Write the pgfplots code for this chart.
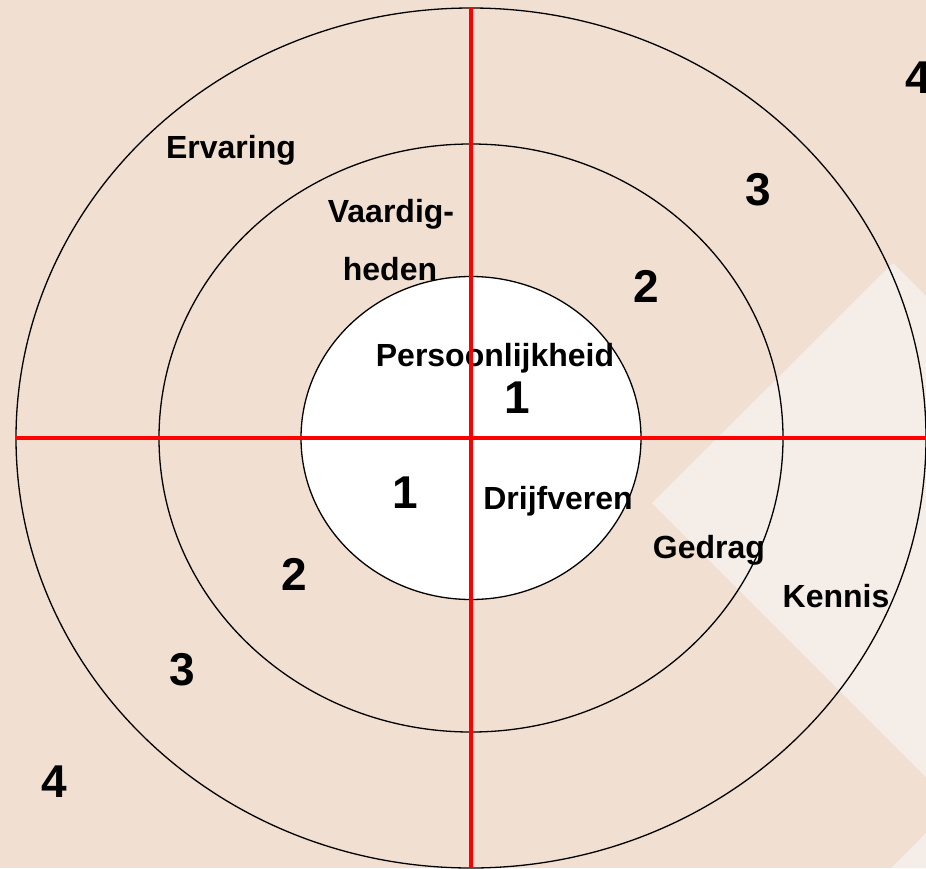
\documentclass[border=0pt]{standalone}
\usepackage{pgfplots}
\pgfplotsset{compat=1.18}
\usepackage{fontspec}
\setmainfont{Liberation Sans}
\definecolor{bg}{RGB}{241,223,209}
\definecolor{lt}{RGB}{245,237,231}
\begin{document}
\begin{tikzpicture}
\begin{axis}[scale only axis, width=463pt, height=434pt,
  xmin=0, xmax=926, ymin=0, ymax=868, y dir=reverse,
  axis lines=none, clip=true,
  axis background/.style={fill=bg}]
% light decorative shapes
\addplot[fill=lt, draw=none] coordinates {(652,503) (893,263) (960,330) (960,811)} -- cycle;
\addplot[fill=lt, draw=none] coordinates {(891,868) (926,833) (926,868)} -- cycle;
% rings
\draw[black, line width=0.65pt] (axis cs:471,438) ellipse [x radius=227.5pt, y radius=215pt];
\draw[black, line width=0.65pt] (axis cs:471,438) ellipse [x radius=156pt, y radius=147pt];
\draw[black, fill=white, line width=0.65pt] (axis cs:471,438) ellipse [x radius=85pt, y radius=80.75pt];
% labels
\tikzset{lab/.style={font=\bfseries\fontsize{16}{18}\selectfont, anchor=base, inner sep=0pt},
         num/.style={font=\bfseries\fontsize{23}{26}\selectfont, anchor=base, inner sep=0pt}}
\node[lab] at (axis cs:231,158) {Ervaring};
\node[lab] at (axis cs:391,222) {Vaardig-};
\node[lab] at (axis cs:390,280) {heden};
\node[lab] at (axis cs:495,366) {Persoonlijkheid};
\node[lab] at (axis cs:558,509) {Drijfveren};
\node[lab] at (axis cs:709,558) {Gedrag};
\node[lab] at (axis cs:836,607) {Kennis};
\node[num] at (axis cs:517,413) {1};
\node[num] at (axis cs:405,508) {1};
\node[num] at (axis cs:646,302) {2};
\node[num] at (axis cs:758,205) {3};
\node[num, anchor=base west] at (axis cs:905,93) {4};
\node[num] at (axis cs:294,590) {2};
\node[num] at (axis cs:182,685) {3};
\node[num] at (axis cs:54,797) {4};
% red axes
\addplot[red, line width=1.75pt, mark=none] coordinates {(471,8) (471,868)};
\addplot[red, line width=1.75pt, mark=none] coordinates {(16,438) (926,438)};
\end{axis}
\pgfresetboundingbox
\path (current axis.south west) rectangle (current axis.north east);
\end{tikzpicture}
\end{document}
